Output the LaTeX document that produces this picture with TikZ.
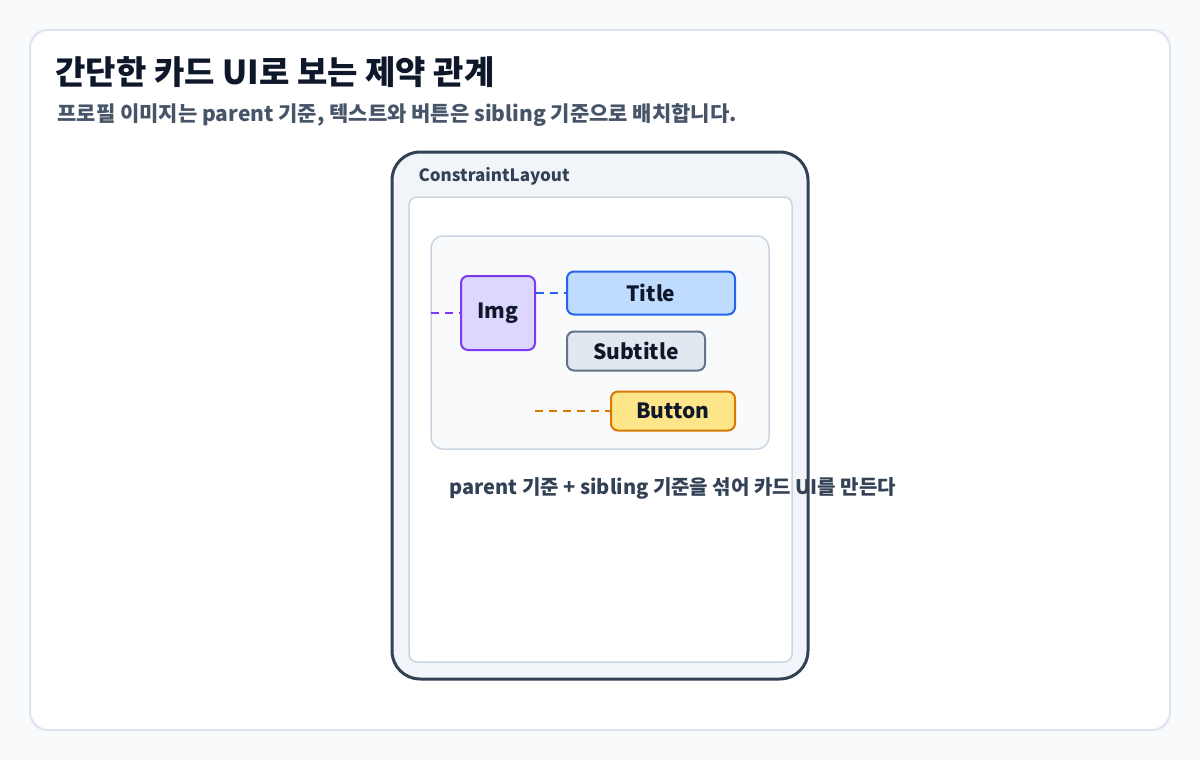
\documentclass[tikz,border=0pt]{standalone}
\usepackage{fontspec}
\setmainfont{Noto Sans CJK KR}
\definecolor{bg}{HTML}{F8FAFC}
\definecolor{cardb}{HTML}{DBE3EE}
\definecolor{dark}{HTML}{0F172A}
\definecolor{slate}{HTML}{475569}
\definecolor{frame}{HTML}{334155}
\definecolor{framef}{HTML}{F1F5F9}
\definecolor{line}{HTML}{CBD5E1}
\definecolor{pf}{HTML}{DDD6FE}\definecolor{ps}{HTML}{7C3AED}
\definecolor{bf}{HTML}{BFDBFE}\definecolor{bs}{HTML}{2563EB}
\definecolor{gf}{HTML}{E2E8F0}\definecolor{gs}{HTML}{64748B}
\definecolor{yf}{HTML}{FDE68A}\definecolor{ys}{HTML}{D97706}
\begin{document}
\begin{tikzpicture}[x=1pt,y=-1pt,
  box/.style={draw,line width=2pt,rounded corners=7pt,text=dark,font=\fontsize{21}{23}\selectfont\bfseries},
  dl/.style={dashed,dash pattern=on 8pt off 6pt,line width=2pt}]
\useasboundingbox (0,0) rectangle (1200,760);
\fill[bg] (0,0) rectangle (1200,760);
\draw[cardb,fill=white,line width=2pt,rounded corners=18pt] (30,30) rectangle (1170,730);
\node[anchor=west,text=dark,font=\fontsize{33}{36}\selectfont\bfseries] (title) at (52,72) {간단한 카드 UI로 보는 제약 관계};
\node[anchor=west,text=slate,font=\fontsize{21}{24}\selectfont\bfseries] (sub) at (54,115) {프로필 이미지는 parent 기준, 텍스트와 버튼은 sibling 기준으로 배치합니다.};
\draw[frame,fill=framef,line width=3pt,rounded corners=28pt] (392,152) rectangle (808,679);
\node[anchor=west,text=frame,font=\fontsize{17}{19}\selectfont\bfseries] (cl) at (415,176) {ConstraintLayout};
\draw[line,fill=white,line width=1.5pt,rounded corners=8pt] (409,197) rectangle (792,662);
\draw[line,fill=bg,line width=1.5pt,rounded corners=12pt] (431,236) rectangle (769,449);
\coordinate (cardL) at (431,313);
\node[box,draw=ps,fill=pf,minimum width=74pt,minimum height=74pt] (img) at (498,313) {Img};
\node[box,draw=bs,fill=bf,minimum width=168pt,minimum height=43pt] (ttl) at (651,293) {Title};
\node[box,draw=gs,fill=gf,minimum width=138pt,minimum height=39pt] (st) at (636,351) {Subtitle};
\node[box,draw=ys,fill=yf,minimum width=124pt,minimum height=39pt] (btn) at (673,411) {Button};
\coordinate (bL) at (535,411);
\draw[dl,ps] (cardL) -- (img.west);
\draw[dl,bs] (img.east|-ttl.west) -- (ttl.west);
\draw[dl,ys] (bL) -- (btn.west);
\node[anchor=west,text=frame,font=\fontsize{20}{22}\selectfont\bfseries] (cap) at (446,488) {parent 기준 + sibling 기준을 섞어 카드 UI를 만든다};
\end{tikzpicture}
\end{document}
